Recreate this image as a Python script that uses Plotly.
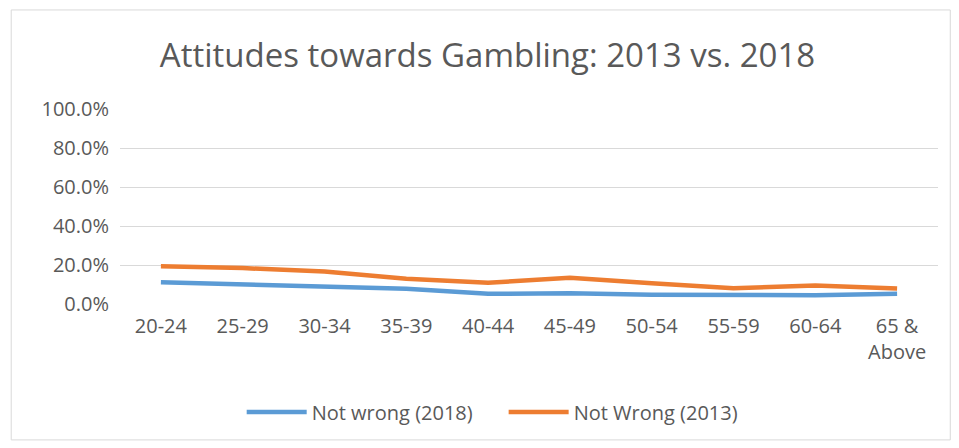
import plotly.graph_objects as go

# age groups and shares
age_groups = ["20-24", "25-29", "30-34", "35-39", "40-44",
              "45-49", "50-54", "55-59", "60-64", "65 &<br>Above"]
not_wrong_2018 = [0.112, 0.100, 0.086, 0.078, 0.052, 0.055, 0.048, 0.048, 0.045, 0.052]
not_wrong_2013 = [0.193, 0.184, 0.167, 0.129, 0.109, 0.135, 0.107, 0.081, 0.095, 0.079]

FONT = "Open Sans, Noto Sans, sans-serif"
GREY = "#595959"
PAD = "\u00a0" * 5  # extra gap between the two legend entries

fig = go.Figure()
fig.add_trace(go.Scatter(
    x=age_groups, y=not_wrong_2018, mode="lines", name="Not wrong (2018)" + PAD,
    line=dict(color="#5B9BD5", width=4.5),
))
fig.add_trace(go.Scatter(
    x=age_groups, y=not_wrong_2013, mode="lines", name="Not Wrong (2013)",
    line=dict(color="#ED7D31", width=4.5),
))

fig.update_layout(
    width=959, height=448,
    paper_bgcolor="white", plot_bgcolor="white",
    margin=dict(l=112, r=29, t=101, b=152),
    font=dict(family=FONT, size=20, color=GREY),
    title=dict(text="Attitudes towards Gambling: 2013 vs. 2018",
               x=0.5, xanchor="center", y=0.895, yanchor="middle",
               font=dict(family=FONT, size=33, color=GREY)),
    showlegend=True,
    legend=dict(orientation="h", x=0.455, xanchor="center", y=-0.554, yanchor="middle",
                font=dict(size=20, color=GREY), itemwidth=60),
    xaxis=dict(showgrid=False, showline=False, ticks="", tickangle=0,
               range=[-0.5, 9.5], ticklabelstandoff=8,
               tickfont=dict(size=20, color=GREY)),
    yaxis=dict(range=[0, 1], dtick=0.2, tickformat=".1%", showgrid=True,
               gridcolor="#D9D9D9", gridwidth=1.3, zeroline=False,
               ticks="", ticklabelstandoff=10, tickfont=dict(size=20, color=GREY)),
    shapes=[dict(type="rect", xref="paper", yref="paper",
                 x0=-0.133, x1=1.015, y0=-0.697, y1=1.508,
                 line=dict(color="#D9D9D9", width=1))],
)

fig.write_html("out.html")
